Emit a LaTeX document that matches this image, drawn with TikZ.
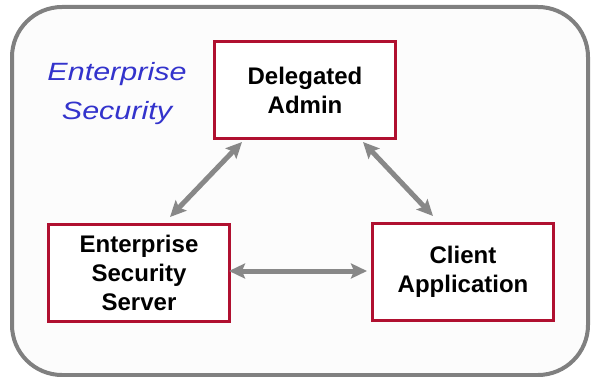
\documentclass[tikz,border=0pt]{standalone}
\usepackage{fontspec}
\setmainfont{Liberation Sans}
\newfontfamily\widesans[FakeStretch=1.22]{Liberation Sans}
\usetikzlibrary{arrows.meta}
\definecolor{boxred}{RGB}{176,16,48}
\definecolor{framegray}{RGB}{128,128,128}
\definecolor{arrowgray}{RGB}{136,136,136}
\definecolor{titleblue}{RGB}{51,51,204}

\begin{document}
\begin{tikzpicture}[x=1pt,y=-1pt,
    comp/.style={draw=boxred, line width=3pt, fill=white, minimum width=181pt,
        minimum height=97pt, inner sep=0pt, align=center,
        font=\fontsize{24}{29}\selectfont\bfseries},
    link/.style={{Stealth[length=16pt,width=15pt,inset=3pt]}-{Stealth[length=16pt,width=15pt,inset=3pt]},
        draw=arrowgray, line width=5pt}]
    \useasboundingbox (0,0) rectangle (591,377);
    % Draw outer frame
    \draw[framegray, line width=4pt, rounded corners=50pt, fill=black!1]
        (12,7) rectangle (588,375);
    \node[text=titleblue, align=center, font=\widesans\fontsize{25}{39}\selectfont\itshape]
        (title) at (117,94) {Enterprise\\Security};
    % Draw the three components
    \node[comp] (admin) at (305,90) {Delegated\\Admin};
    \node[comp] (server) at (139,273) {Enterprise\\Security\\Server};
    \node[comp] (client) at (463,272) {Client\\Application};
    % Draw the links between them
    \draw[link] ([shift={(31,-6)}]server.north) -- ([shift={(-63,2)}]admin.south);
    \draw[link] ([shift={(58,2)}]admin.south) -- ([shift={(-30,-6)}]client.north);
    \draw[link] ([shift={(-2,-2)}]server.east) -- ([shift={(-4,-1)}]client.west);
\end{tikzpicture}
\end{document}
